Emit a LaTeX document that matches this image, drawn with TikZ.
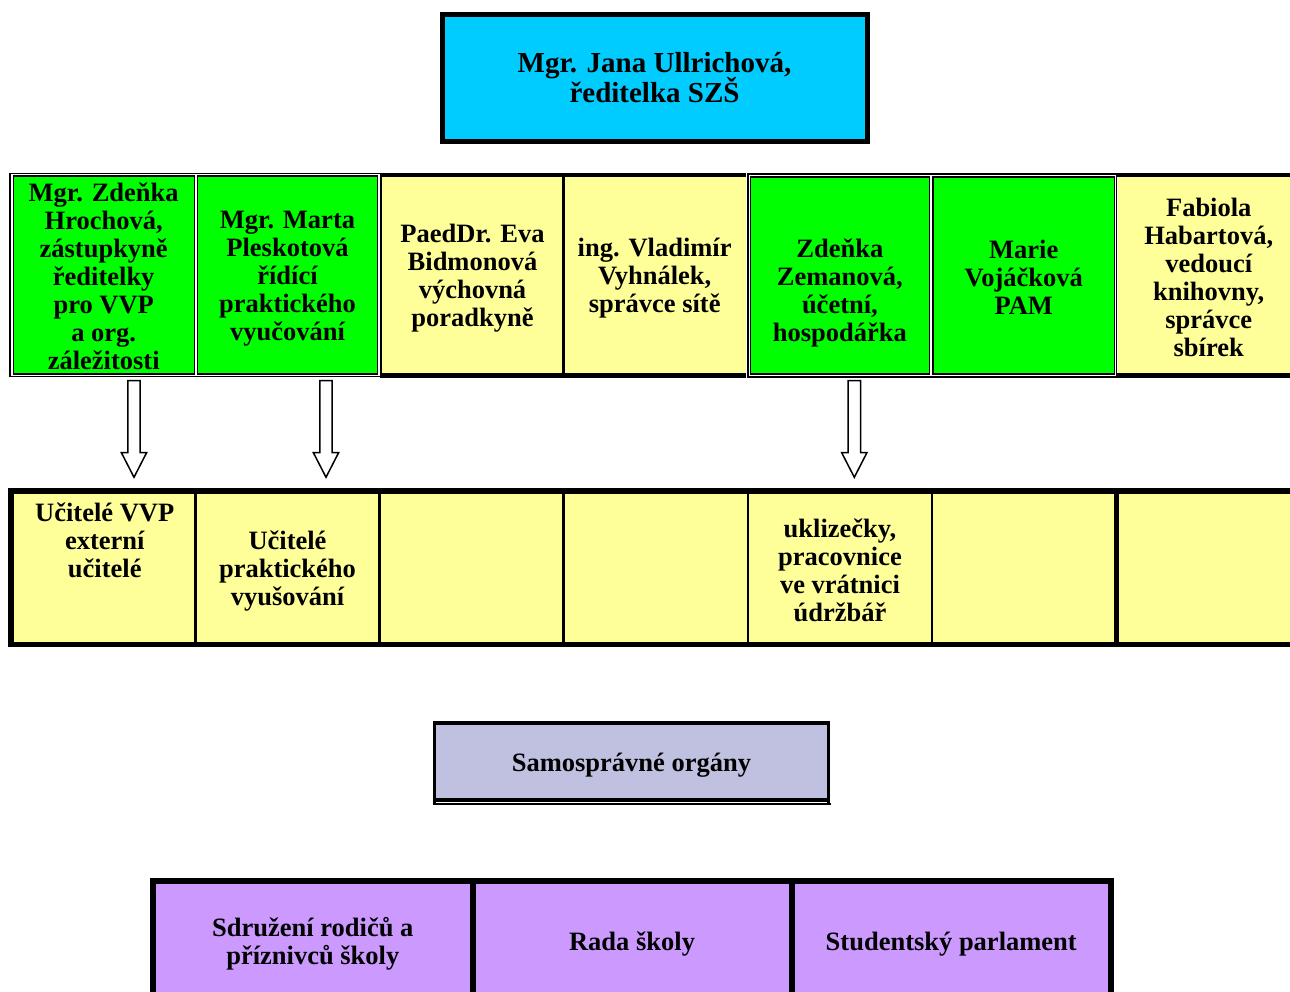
\documentclass[tikz,border=0pt]{standalone}
\usepackage{fontspec}
\setmainfont{Liberation Serif}
\usetikzlibrary{calc}
\definecolor{ccyan}{HTML}{00CCFF}
\definecolor{cgreen}{HTML}{00FF00}
\definecolor{cyellow}{HTML}{FFFF99}
\definecolor{clav}{HTML}{C0C0E0}
\definecolor{cpurple}{HTML}{CC99FF}
\newcommand{\cstr}{\rule[-3pt]{0pt}{28pt}}
\newcommand{\lowstr}{\rule[-3pt]{0pt}{25pt}}
\newcommand{\tstr}{\rule[-6pt]{0pt}{30pt}}
\newcommand{\sstr}{\rule[-1.5pt]{0pt}{28pt}}
\newcommand{\tightlines}{\lineskiplimit=-30pt\relax\lineskip=0pt\relax}
\newcommand{\hollowarrow}[2]{%
  \draw[hollow] let \p1=(#1), \p2=(#2) in
    (\x1-6.2pt,\y1) -- (\x1+6.2pt,\y1) -- (\x1+6.2pt,\y2+24.6pt) -- (\x1+12.6pt,\y2+24.6pt)
    -- (\x2,\y2) -- (\x1-12.6pt,\y2+24.6pt) -- (\x1-6.2pt,\y2+24.6pt) -- cycle;}
\begin{document}
\begin{tikzpicture}[x=1pt,y=-1pt,
  txt/.style={font=\fontsize{26.5}{28}\selectfont\bfseries\tightlines,
    align=center, inner sep=0pt, outer sep=0pt},
  greencell/.style={txt, rectangle, fill=cgreen, draw=black, line width=1.4pt},
  yelcell/.style={txt, rectangle, fill=cyellow},
  purcell/.style={txt, rectangle, fill=cpurple},
  frame/.style={draw=black, line width=1.5pt},
  heavy/.style={draw=black, line width=#1},
  hollow/.style={draw=black, fill=white, line width=1.5pt, line join=miter}
]
\clip (0,0) rectangle (1290,992);
\fill[white] (0,0) rectangle (1290,992);

% top box
\node[draw=black, line width=5pt, fill=ccyan, minimum width=425pt, minimum height=127.3pt,
  font=\fontsize{29}{30}\selectfont\bfseries\tightlines, align=center, inner sep=0pt]
  (top) at (654.5,78.3) {\tstr Mgr. Jana Ullrichová,\\ředitelka SZŠ\tstr};

% row 1 : frames of green groups
\draw[frame] (10.2,173.5) rectangle (380.8,376.5);
\draw[frame] (748,174.2) rectangle (1116.7,376.8);

% row 1 : yellow cells
\node[yelcell, minimum width=181.6pt, minimum height=196pt] (c3) at (472.5,275.3)
  {\cstr PaedDr. Eva\\Bidmonová\\výchovná\\poradkyně\cstr};
\node[yelcell, minimum width=182.7pt, minimum height=196pt] (c4) at (654.65,275.3)
  {\cstr ing. Vladimír\\Vyhnálek,\\správce sítě\cstr};
\node[yelcell, minimum width=182.5pt, minimum height=196pt] (c7) at (1208.75,275.3)
  {\cstr Fabiola\\Habartová,\\vedoucí\\knihovny,\\správce\\sbírek\cstr};
\draw[heavy=4.6pt] (380,175) -- (746,175);
\draw[heavy=5pt] (380,375.8) -- (746,375.8);
\draw[heavy=3pt] (563.3,177) -- (563.3,374);
\draw[heavy=4.6pt] (1116.7,175) -- (1300,175);
\draw[heavy=5pt] (1116.7,375.8) -- (1300,375.8);

% row 1 : green cells
\node[greencell, minimum width=181pt, minimum height=197.8pt] (c1) at (103.7,274.9)
  {\cstr Mgr. Zdeňka\\Hrochová,\\zástupkyně\\ředitelky\\pro VVP\\a org.\\záležitosti\cstr};
\node[greencell, minimum width=180pt, minimum height=197.8pt] (c2) at (287.5,274.9)
  {\cstr Mgr. Marta\\Pleskotová\\řídící\\praktického\\vyučování\cstr};
\node[greencell, minimum width=179.4pt, minimum height=197pt] (c5) at (839.9,275.5)
  {\cstr\\Zdeňka\\Zemanová,\\účetní,\\hospodářka\cstr};
\node[greencell, minimum width=181.4pt, minimum height=197pt] (c6) at (1023.7,275.5)
  {\cstr Marie\\Vojáčková\\PAM\cstr};

% row 2 : cells
\node[yelcell, minimum width=181.5pt, minimum height=148pt] (d1) at (104.75,568)
  {\lowstr Učitelé VVP\\externí\\učitelé\\\cstr\\\cstr};
\node[yelcell, minimum width=184pt, minimum height=148pt] (d2) at (287.5,568)
  {\cstr Učitelé\\praktického\\vyušování\cstr};
\node[yelcell, minimum width=184pt, minimum height=148pt] (d3) at (471.5,568) {};
\node[yelcell, minimum width=184.5pt, minimum height=148pt] (d4) at (655.75,568) {};
\node[yelcell, minimum width=184pt, minimum height=148pt] (d5) at (840,568)
  {\cstr uklizečky,\\pracovnice\\ve vrátnici\\údržbář\cstr};
\node[yelcell, minimum width=184pt, minimum height=148pt] (d6) at (1024,568) {};
\node[yelcell, minimum width=184pt, minimum height=148pt] (d7) at (1208,568) {};
\draw[heavy=5.7pt] (8.3,491.2) -- (1300,491.2);
\draw[heavy=5.6pt] (8.3,644.5) -- (1300,644.5);
\draw[heavy=5.7pt] (11.2,488.3) -- (11.2,647.3);
\foreach \xx/\ww in {195.5/3pt, 379.5/3pt, 563.5/3pt, 748/2.6pt, 932/2.6pt, 1116/5pt}
  \draw[heavy=\ww] (\xx,491) -- (\xx,644.5);

% arrows
\coordinate (a1s) at (134,380.7);  \coordinate (a1e) at (134,477.3);
\coordinate (a2s) at (326,380.7);  \coordinate (a2e) at (326,477.3);
\coordinate (a3s) at (854.3,380.7);  \coordinate (a3e) at (854.3,477.3);
\hollowarrow{a1s}{a1e}
\hollowarrow{a2s}{a2e}
\hollowarrow{a3s}{a3e}

% self-governing bodies
\node[txt, draw=black, line width=3.5pt, fill=clav, minimum width=394.4pt, minimum height=77pt] (s)
  at (631.5,761.5) {\sstr Samosprávné orgány};
\draw[heavy=3.5pt] (434.3,800) -- (434.3,805);
\draw[heavy=3.5pt] (828.7,800) -- (828.7,805);
\draw[heavy=2pt] (432.5,804) -- (830.5,804);

% bottom row
\node[purcell, minimum width=313.6pt, minimum height=114pt] (p1) at (312.8,941)
  {\cstr Sdružení rodičů a\\příznivců školy\cstr};
\node[purcell, minimum width=312.9pt, minimum height=114pt] (p2) at (632.05,941) {\cstr Rada školy};
\node[purcell, minimum width=313.5pt, minimum height=114pt] (p3) at (951.25,941) {\cstr Studentský parlament};
\draw[heavy=6pt] (150,881) -- (1114,881);
\foreach \xx in {153, 472.6, 791.5, 1111}
  \draw[heavy=6pt] (\xx,878) -- (\xx,1000);
\end{tikzpicture}
\end{document}
